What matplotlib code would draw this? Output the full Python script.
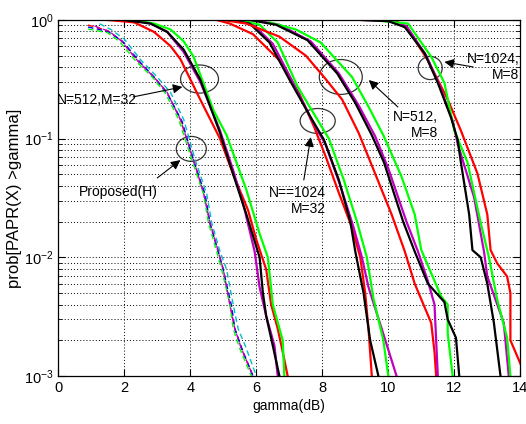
import numpy as np
import matplotlib
matplotlib.use("Agg")
import matplotlib.pyplot as plt
from matplotlib.patches import Ellipse
from matplotlib.ticker import NullLocator

plt.rcParams['font.family'] = ['Liberation Sans', 'DejaVu Sans']
plt.rcParams['mathtext.fontset'] = 'custom'
plt.rcParams['mathtext.rm'] = 'Liberation Sans'
plt.rcParams['mathtext.it'] = 'Liberation Sans'

# ---- Proposed(H), dashed ----
prop_red_x = [0.9, 1.5, 1.9, 2.4, 2.9, 3.3, 3.7, 4.1, 4.4, 4.6, 4.85, 5.0, 5.2, 5.35, 5.55, 5.9]
prop_red_y = [0.907, 0.813, 0.676, 0.457, 0.331, 0.245, 0.145, 0.066, 0.035, 0.0195, 0.0112, 0.0079, 0.004, 0.0025, 0.0017, 0.001]
prop_blue_x = [0.9, 1.5, 1.95, 2.45, 2.9, 3.3, 3.75, 4.1, 4.45, 4.6, 4.85, 5.0, 5.25, 5.35, 5.6, 5.9]
prop_blue_y = [0.873, 0.80, 0.66, 0.45, 0.33, 0.24, 0.14, 0.065, 0.034, 0.019, 0.011, 0.0078, 0.0039, 0.0025, 0.0016, 0.001]
prop_green_x = [0.9, 1.5, 1.85, 2.35, 2.85, 3.25, 3.65, 4.05, 4.4, 4.55, 4.8, 4.95, 5.2, 5.3, 5.5, 5.85]
prop_green_y = [0.84, 0.78, 0.66, 0.45, 0.33, 0.24, 0.145, 0.066, 0.034, 0.0195, 0.0112, 0.0079, 0.004, 0.0025, 0.0017, 0.001]
prop_cyan_x = [1.25, 1.6, 2.0, 2.5, 3.0, 3.4, 3.8, 4.15, 4.5, 4.65, 4.9, 5.1, 5.3, 5.45, 5.7, 6.0]
prop_cyan_y = [0.93, 0.83, 0.69, 0.46, 0.33, 0.245, 0.145, 0.066, 0.034, 0.0195, 0.0112, 0.0079, 0.004, 0.0025, 0.0017, 0.001]
prop_mag_x = [1.1, 1.55, 1.9, 2.4, 2.9, 3.3, 3.7, 4.1, 4.4, 4.6, 4.85, 5.0, 5.2, 5.35, 5.55, 5.9]
prop_mag_y = [0.89, 0.80, 0.67, 0.455, 0.33, 0.245, 0.145, 0.066, 0.035, 0.0195, 0.0112, 0.0079, 0.004, 0.0025, 0.0017, 0.001]

# ---- N=512, M=32 ----
g1_red_x = [1.5, 2.3, 2.9, 3.4, 3.7, 4.3, 4.9, 5.3, 5.75, 6.0, 6.3, 6.45, 6.65, 6.8, 6.95]
g1_red_y = [1.0, 0.955, 0.794, 0.603, 0.468, 0.214, 0.1, 0.05, 0.025, 0.0141, 0.0079, 0.004, 0.0025, 0.0016, 0.001]
g1_mag_x = [2.2, 2.8, 3.3, 3.8, 4.3, 4.9, 5.3, 5.65, 5.95, 6.1, 6.3, 6.55, 6.65]
g1_mag_y = [1.0, 0.933, 0.794, 0.537, 0.302, 0.117, 0.054, 0.025, 0.0112, 0.0056, 0.0032, 0.0018, 0.001]
g1_blk_x = [2.0, 2.8, 3.3, 3.8, 4.3, 4.9, 5.3, 5.7, 6.1, 6.2, 6.3, 6.5, 6.7]
g1_blk_y = [1.0, 0.933, 0.794, 0.562, 0.316, 0.112, 0.05, 0.023, 0.01, 0.005, 0.0032, 0.0018, 0.001]
g1_grn_x = [2.3, 2.9, 3.4, 3.8, 4.1, 4.7, 5.1, 5.7, 6.1, 6.35, 6.5, 6.8, 6.85]
g1_grn_y = [1.0, 0.933, 0.832, 0.661, 0.49, 0.174, 0.107, 0.037, 0.0158, 0.01, 0.004, 0.002, 0.001]

# ---- N=1024, M=32 ----
g2_red_x = [4.8, 5.2, 5.9, 6.7, 7.3, 7.75, 8.1, 8.5, 8.9, 9.15, 9.3, 9.4, 9.5]
g2_red_y = [1.0, 0.933, 0.759, 0.457, 0.24, 0.126, 0.071, 0.035, 0.0178, 0.01, 0.005, 0.0025, 0.001]
g2_mag_x = [5.3, 5.9, 6.5, 7.1, 7.7, 8.1, 8.55, 8.95, 9.2, 9.4, 9.8, 10.25]
g2_mag_y = [1.0, 0.912, 0.631, 0.302, 0.141, 0.089, 0.04, 0.0178, 0.01, 0.0056, 0.0025, 0.001]
g2_blk_x = [5.2, 5.8, 6.4, 7.0, 7.65, 8.05, 8.5, 8.85, 9.0, 9.25, 9.45, 9.7]
g2_blk_y = [1.0, 0.933, 0.646, 0.316, 0.151, 0.098, 0.045, 0.02, 0.0112, 0.005, 0.002, 0.001]
g2_grn_x = [5.5, 6.1, 6.65, 7.25, 7.85, 8.2, 8.65, 9.05, 9.35, 9.55, 9.85, 10.0]
g2_grn_y = [1.0, 0.912, 0.646, 0.275, 0.145, 0.1, 0.045, 0.02, 0.01, 0.0045, 0.002, 0.001]

# ---- N=512, M=8 ----
g3_red_x = [5.0, 5.7, 6.7, 7.5, 8.05, 8.6, 9.1, 9.55, 10.1, 10.5, 10.8, 11.3, 11.4, 11.45]
g3_red_y = [1.0, 0.933, 0.724, 0.501, 0.331, 0.214, 0.112, 0.055, 0.023, 0.0112, 0.006, 0.0028, 0.0016, 0.001]
g3_mag_x = [5.9, 6.7, 7.65, 8.5, 9.1, 9.6, 10.0, 10.55, 10.9, 11.2, 11.4, 11.45, 11.5]
g3_mag_y = [1.0, 0.912, 0.661, 0.355, 0.191, 0.105, 0.056, 0.02, 0.0112, 0.0063, 0.004, 0.002, 0.001]
g3_blk_x = [5.8, 6.6, 7.55, 8.45, 9.0, 9.5, 9.87, 10.45, 10.8, 11.2, 11.7, 11.8, 12.05, 12.15]
g3_blk_y = [1.0, 0.912, 0.676, 0.355, 0.2, 0.107, 0.063, 0.02, 0.0112, 0.006, 0.0042, 0.003, 0.0021, 0.001]
g3_grn_x = [6.4, 7.2, 7.95, 8.9, 9.4, 9.85, 10.4, 10.8, 11.0, 11.6, 11.8, 11.8, 11.95]
g3_grn_y = [0.955, 0.832, 0.646, 0.331, 0.186, 0.107, 0.048, 0.023, 0.0115, 0.0047, 0.004, 0.0023, 0.001]

# ---- N=1024, M=8 ----
g4_red_x = [9.2, 10.2, 10.6, 11.2, 11.8, 12.2, 12.7, 13.0, 13.1, 13.3, 13.6, 13.7, 13.7, 14.1]
g4_red_y = [1.0, 1.0, 0.832, 0.457, 0.214, 0.117, 0.051, 0.023, 0.0115, 0.0089, 0.0069, 0.005, 0.002, 0.0011]
g4_mag_x = [9.3, 10.1, 10.55, 11.15, 11.55, 11.95, 12.1, 12.6, 12.9, 13.0, 13.5, 13.65]
g4_mag_y = [1.0, 0.977, 0.891, 0.501, 0.282, 0.141, 0.091, 0.032, 0.0112, 0.0069, 0.0028, 0.001]
g4_blk_x = [9.2, 10.0, 10.5, 11.1, 11.5, 11.9, 12.1, 12.2, 12.45, 12.55, 12.8, 13.0, 13.2, 13.4]
g4_blk_y = [1.0, 0.977, 0.871, 0.525, 0.295, 0.151, 0.098, 0.063, 0.023, 0.0115, 0.01, 0.006, 0.0028, 0.001]
g4_grn_x = [9.5, 10.6, 11.3, 11.7, 12.0, 12.4, 12.8, 13.05, 13.3, 13.6, 13.7]
g4_grn_y = [1.0, 0.933, 0.49, 0.295, 0.117, 0.063, 0.0195, 0.01, 0.0044, 0.0021, 0.001]

fig = plt.figure(figsize=(5.26, 4.24), dpi=100)
ax = fig.add_axes([58.3 / 526, 1 - 376 / 424, 462 / 526, 356 / 424])

dash = (0, (4, 2.5))
ax.plot(prop_red_x, prop_red_y, color='r', lw=1.0, ls=dash)
ax.plot(prop_blue_x, prop_blue_y, color='b', lw=1.0, ls=dash)
ax.plot(prop_green_x, prop_green_y, color='#00ff00', lw=1.0, ls=dash)
ax.plot(prop_cyan_x, prop_cyan_y, color='c', lw=1.0, ls=dash)
ax.plot(prop_mag_x, prop_mag_y, color='m', lw=1.0, ls=dash)

groups = [
    (g1_red_x, g1_red_y, g1_mag_x, g1_mag_y, g1_grn_x, g1_grn_y, g1_blk_x, g1_blk_y),
    (g2_red_x, g2_red_y, g2_mag_x, g2_mag_y, g2_grn_x, g2_grn_y, g2_blk_x, g2_blk_y),
    (g3_red_x, g3_red_y, g3_mag_x, g3_mag_y, g3_grn_x, g3_grn_y, g3_blk_x, g3_blk_y),
    (g4_red_x, g4_red_y, g4_mag_x, g4_mag_y, g4_grn_x, g4_grn_y, g4_blk_x, g4_blk_y),
]
for rx, ry, mx, my, gx, gy, kx, ky in groups:
    ax.plot(rx, ry, color='r', lw=1.6)
    ax.plot(mx, my, color='m', lw=1.6)
    ax.plot(gx, gy, color='#00ff00', lw=1.6)
    ax.plot(kx, ky, color='k', lw=1.6)

ax.set_yscale('log')
ax.set_xlim(0, 14)
ax.set_ylim(1e-3, 1)
ax.set_xticks(range(0, 15, 2))
ax.xaxis.set_minor_locator(NullLocator())
ax.grid(True, which='major', ls=(0, (1, 2.2)), color='k', lw=0.7)
ax.grid(True, which='minor', axis='y', ls=(0, (1, 2.2)), color='k', lw=0.7)
ax.tick_params(which='both', direction='in', top=True, right=True, labelsize=10.5)
ax.tick_params(which='major', length=5)
ax.tick_params(which='minor', length=3)
for s in ax.spines.values():
    s.set_linewidth(0.9)

ax.set_xlabel('gamma(dB)', fontsize=10, labelpad=3)
ax.set_ylabel('prob[PAPR(X) >gamma]', fontsize=12, labelpad=1)

# ellipses: centre in data coords, size in axes fraction
to_axes = ax.transData + ax.transAxes.inverted()
ellipses = [((4.28, 0.318), 0.082, 0.079),
            ((4.03, 0.082), 0.065, 0.070),
            ((7.86, 0.141), 0.076, 0.070),
            ((8.56, 0.331), 0.093, 0.098),
            ((11.27, 0.394), 0.052, 0.065)]
for c, w, h in ellipses:
    cx, cy = to_axes.transform(c)
    ax.add_patch(Ellipse((cx, cy), w, h, transform=ax.transAxes,
                         fill=False, ec='#333333', lw=0.9))

arr = dict(arrowstyle='-|>', color='k', lw=0.8, mutation_scale=14, shrinkA=0, shrinkB=0)
fs = 10
ax.text(1.18, 0.212, 'N=512,M=32', fontsize=fs, ha='center', va='center')
ax.annotate('', xy=(3.76, 0.273), xytext=(2.27, 0.225), arrowprops=arr)
ax.text(1.81, 0.0356, 'Proposed(H)', fontsize=fs, ha='center', va='center')
ax.annotate('', xy=(3.7, 0.066), xytext=(3.0, 0.0467), arrowprops=arr)
ax.text(8.11, 0.030, 'N==1024\nM=32', fontsize=fs, ha='right', va='center',
        multialignment='right', linespacing=1.15)
ax.annotate('', xy=(7.65, 0.103), xytext=(7.44, 0.0449), arrowprops=arr)
ax.text(11.51, 0.130, 'N=512,\nM=8', fontsize=fs, ha='right', va='center',
        multialignment='right', linespacing=1.15)
ax.annotate('', xy=(9.41, 0.312), xytext=(10.29, 0.185), arrowprops=arr)
ax.text(13.97, 0.402, 'N=1024,\nM=8', fontsize=fs, ha='right', va='center',
        multialignment='right', linespacing=1.15)
ax.annotate('', xy=(11.7, 0.443), xytext=(12.57, 0.402), arrowprops=arr)

fig.savefig('out.png', dpi=100)
